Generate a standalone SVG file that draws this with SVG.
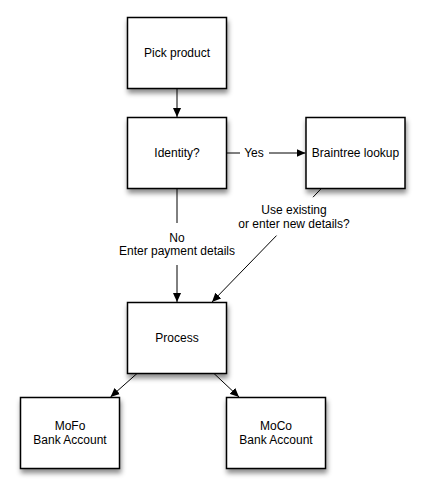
<svg xmlns="http://www.w3.org/2000/svg" width="425" height="492" viewBox="0 0 425 492">
<style>
.box{fill:#ffffff;stroke:#000000;stroke-width:1.5;filter:url(#sh)}
.lbl{font-family:"Liberation Sans",Arial,sans-serif;font-size:12px;fill:#000000;text-anchor:middle}
.edge{stroke:#000000;stroke-width:1;fill:none}
.arr{marker-end:url(#ah)}
</style>
<defs>
<filter id="sh" x="-20%" y="-20%" width="150%" height="150%">
<feDropShadow dx="1" dy="4" stdDeviation="2.5" flood-color="#000000" flood-opacity="0.45"/>
</filter>
<marker id="ah" viewBox="0 0 10 10" refX="10" refY="5" markerWidth="9" markerHeight="9" markerUnits="userSpaceOnUse" orient="auto">
<path d="M0,0.5 L10,5 L0,9.5 z" fill="#000000"/>
</marker>
</defs>
<rect width="425" height="492" fill="#ffffff"/>
<g id="connectors">
<line class="edge arr" x1="177" y1="88.5" x2="177" y2="117"/>
<line class="edge" x1="226.5" y1="153" x2="240" y2="153"/>
<text class="lbl" x="254" y="157">Yes</text>
<line class="edge arr" x1="269" y1="153" x2="305.5" y2="153"/>
<line class="edge" x1="177" y1="188.5" x2="177" y2="223"/>
<text class="lbl" x="177" y="242">No</text>
<text class="lbl" x="177" y="255">Enter payment details</text>
<line class="edge arr" x1="177" y1="265" x2="177" y2="302"/>
<line class="edge" x1="321.3" y1="188.5" x2="313" y2="197.2"/>
<text class="lbl" x="294" y="214">Use existing</text>
<text class="lbl" x="294" y="228">or enter new details?</text>
<line class="edge arr" x1="276.5" y1="235.6" x2="212" y2="302"/>
<line class="edge arr" x1="137" y1="373.5" x2="110.5" y2="397"/>
<line class="edge arr" x1="214" y1="373.5" x2="239" y2="397"/>
</g>
<g id="pick">
<rect class="box" x="127.5" y="17.5" width="99" height="71"/>
<text class="lbl" x="177" y="57">Pick product</text>
</g>
<g id="identity">
<rect class="box" x="127.5" y="117.5" width="99" height="71"/>
<text class="lbl" x="177" y="157">Identity?</text>
</g>
<g id="braintree">
<rect class="box" x="306" y="117.5" width="99" height="71"/>
<text class="lbl" x="355.5" y="157">Braintree lookup</text>
</g>
<g id="process">
<rect class="box" x="127.5" y="302.5" width="99" height="71"/>
<text class="lbl" x="177" y="342">Process</text>
</g>
<g id="mofo">
<rect class="box" x="20.5" y="397.5" width="99" height="71"/>
<text class="lbl" x="70" y="430">MoFo</text>
<text class="lbl" x="70" y="444">Bank Account</text>
</g>
<g id="moco">
<rect class="box" x="226.5" y="397.5" width="99" height="71"/>
<text class="lbl" x="276" y="430">MoCo</text>
<text class="lbl" x="276" y="444">Bank Account</text>
</g>
</svg>
